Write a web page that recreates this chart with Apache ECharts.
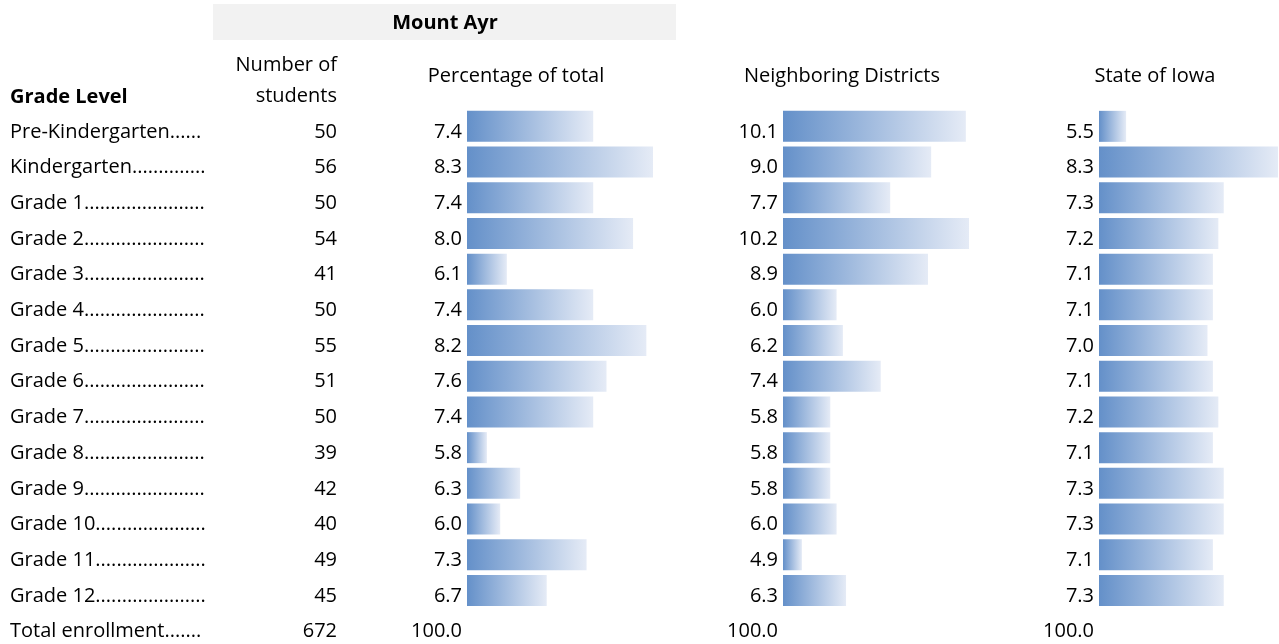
<!DOCTYPE html>
<html>
<head>
<meta charset="utf-8">
<script src="https://cdn.jsdelivr.net/npm/echarts@6/dist/echarts.min.js"></script>
<style>
html,body{margin:0;padding:0;background:#fff;}
#chart{width:1279px;height:644px;}
</style>
</head>
<body>
<div id="chart"></div>
<script>
// ---- data ----
var gradeLabels = ['Pre-Kindergarten','Kindergarten','Grade 1','Grade 2','Grade 3','Grade 4','Grade 5','Grade 6','Grade 7','Grade 8','Grade 9','Grade 10','Grade 11','Grade 12','Total enrollment'];
var students = [50,56,50,54,41,50,55,51,50,39,42,40,49,45,672];
var pctTotal = [7.4,8.3,7.4,8.0,6.1,7.4,8.2,7.6,7.4,5.8,6.3,6.0,7.3,6.7];
var neighboring = [10.1,9.0,7.7,10.2,8.9,6.0,6.2,7.4,5.8,5.8,5.8,6.0,4.9,6.3];
var stateIowa = [5.5,8.3,7.3,7.2,7.1,7.1,7.0,7.1,7.2,7.1,7.3,7.3,7.1,7.3];
var totalLabel = '100.0';
var headers = ['Percentage of total','Neighboring Districts','State of Iowa'];

var FONT = 'Open Sans';
var FS = 20;
var chart = echarts.init(document.getElementById('chart'), null, {renderer:'canvas'});

var dots = '......................................................................';
var TOP = 108.5, PITCH = 35.7;
var H = PITCH * gradeLabels.length;

function barData(arr){ return arr.concat([null]); }
function valLabels(arr){ return arr.map(function(v){return v.toFixed(1);}).concat([totalLabel]); }

var panels = [
  {left:467, width:186, min:5.5, max:8.3, data:pctTotal},
  {left:783, width:186, min:4.3, max:10.2, data:neighboring},
  {left:1099, width:179, min:5.0, max:8.3, data:stateIowa}
];

var grids = [], xAxes = [], yAxes = [], series = [];
var grad = new echarts.graphic.LinearGradient(0,0,1,0,[{offset:0,color:'#6490c9'},{offset:1,color:'#e5ebf6'}]);

function baseY(gi, offset, margin, align, texts, width){
  var lab = {
    show:true, margin:margin, align:align, color:'#000', fontFamily:FONT, fontSize:FS,
    verticalAlign:'top', lineHeight:11,
    formatter:function(v, i){ return texts[i]; }
  };
  if (width) { lab.width = width; lab.overflow = 'truncate'; lab.ellipsis = ''; }
  return {
    type:'category', gridIndex:gi, inverse:true, data:gradeLabels, position:'left', offset:offset,
    axisLine:{show:false}, axisTick:{show:false}, splitLine:{show:false},
    axisLabel:lab
  };
}

panels.forEach(function(p, i){
  grids.push({left:p.left, top:TOP, width:p.width, height:H, containLabel:false});
  xAxes.push({type:'value', gridIndex:i, min:p.min, max:p.max, show:false});
  yAxes.push(baseY(i, 0, 5, 'right', valLabels(p.data)));
  series.push({
    type:'bar', xAxisIndex:i, yAxisIndex:yAxes.length-1, data:barData(p.data),
    barWidth:31, itemStyle:{color:grad}, silent:true, animation:false
  });
});

// grade labels column (left aligned at x=10, dot leaders to ~206)
yAxes.push(baseY(0, 467-10, 0, 'left', gradeLabels.map(function(g){return g + dots;}), 197));
// number of students column (right aligned at x=337)
yAxes.push(baseY(0, 467-337, 0, 'right', students.map(String)));

var graphic = [
  {type:'rect', shape:{x:213, y:4, width:463, height:36}, style:{fill:'#f2f2f2'}, silent:true},
  {type:'text', x:445, y:23, style:{text:'Mount Ayr', font:'bold '+FS+'px '+FONT, fill:'#000', textAlign:'center', textVerticalAlign:'middle'}},
  {type:'text', x:10, y:97, style:{text:'Grade Level', font:'bold '+FS+'px '+FONT, fill:'#000', textAlign:'left', textVerticalAlign:'middle'}},
  {type:'text', x:337, y:65, style:{text:'Number of', font:FS+'px '+FONT, fill:'#000', textAlign:'right', textVerticalAlign:'middle'}},
  {type:'text', x:337, y:96, style:{text:'students', font:FS+'px '+FONT, fill:'#000', textAlign:'right', textVerticalAlign:'middle'}},
  {type:'text', x:516, y:76, style:{text:headers[0], font:FS+'px '+FONT, fill:'#000', textAlign:'center', textVerticalAlign:'middle'}},
  {type:'text', x:842, y:76, style:{text:headers[1], font:FS+'px '+FONT, fill:'#000', textAlign:'center', textVerticalAlign:'middle'}},
  {type:'text', x:1155, y:76, style:{text:headers[2], font:FS+'px '+FONT, fill:'#000', textAlign:'center', textVerticalAlign:'middle'}}
];

chart.setOption({
  animation:false,
  grid:grids, xAxis:xAxes, yAxis:yAxes, series:series, graphic:graphic
});
</script>
</body>
</html>
